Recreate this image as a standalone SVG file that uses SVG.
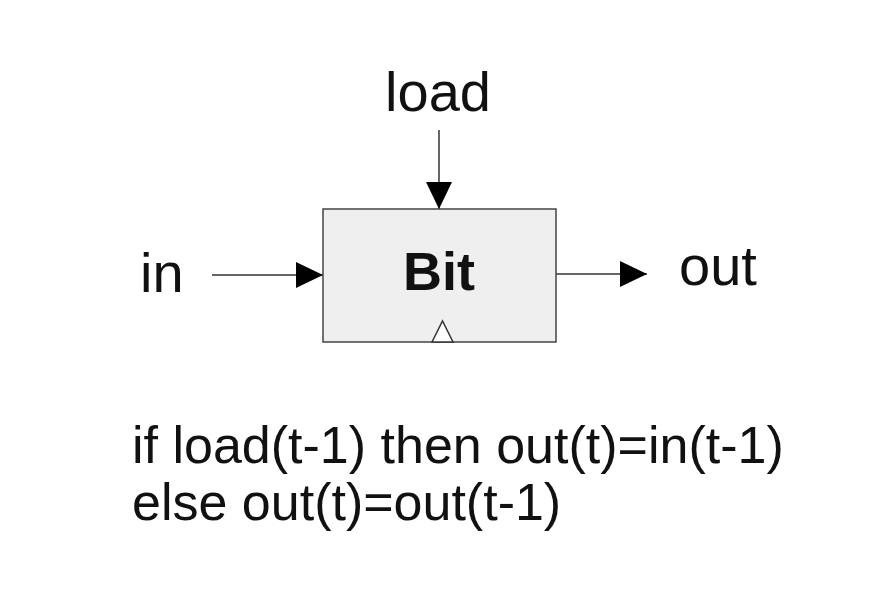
<svg xmlns="http://www.w3.org/2000/svg" width="894" height="611" viewBox="0 0 894 611">
<style>
.lbl{font-family:"Liberation Sans",Arial,sans-serif;font-size:56px;fill:#111}
.eq{font-family:"Liberation Sans",Arial,sans-serif;font-size:52px;fill:#111}
.wire{stroke:#333;stroke-width:1.5;fill:none}
</style>
<defs>
<marker id="ah" markerWidth="28" markerHeight="28" refX="27" refY="13" orient="auto" markerUnits="userSpaceOnUse">
<path d="M0,0 L27,13 L0,26 Z" fill="#000"/>
</marker>
</defs>
<rect width="894" height="611" fill="#fff"/>
<g id="connectors">
<line class="wire" x1="439" y1="130" x2="439" y2="209" marker-end="url(#ah)"/>
<line class="wire" x1="212" y1="275" x2="323" y2="275" marker-end="url(#ah)"/>
<line class="wire" x1="556" y1="274" x2="647" y2="274" marker-end="url(#ah)"/>
</g>
<g id="bit">
<rect x="323" y="209" width="233" height="133" fill="#efefef" stroke="#444" stroke-width="1.5"/>
<text x="439" y="290" text-anchor="middle" font-family="'Liberation Sans',Arial,sans-serif" font-weight="bold" font-size="54" fill="#111">Bit</text>
<path d="M432,342 L442.5,321 L453,342 Z" fill="#fff" stroke="#333" stroke-width="1.5"/>
</g>
<g id="load"><text class="lbl" x="438" y="111" text-anchor="middle">load</text></g>
<g id="in"><text class="lbl" x="140" y="292">in</text></g>
<g id="out"><text class="lbl" x="679" y="285">out</text></g>
<g id="rule">
<text class="eq" x="132" y="463">if load(t-1) then out(t)=in(t-1)</text>
<text class="eq" x="132" y="520">else out(t)=out(t-1)</text>
</g>
</svg>
